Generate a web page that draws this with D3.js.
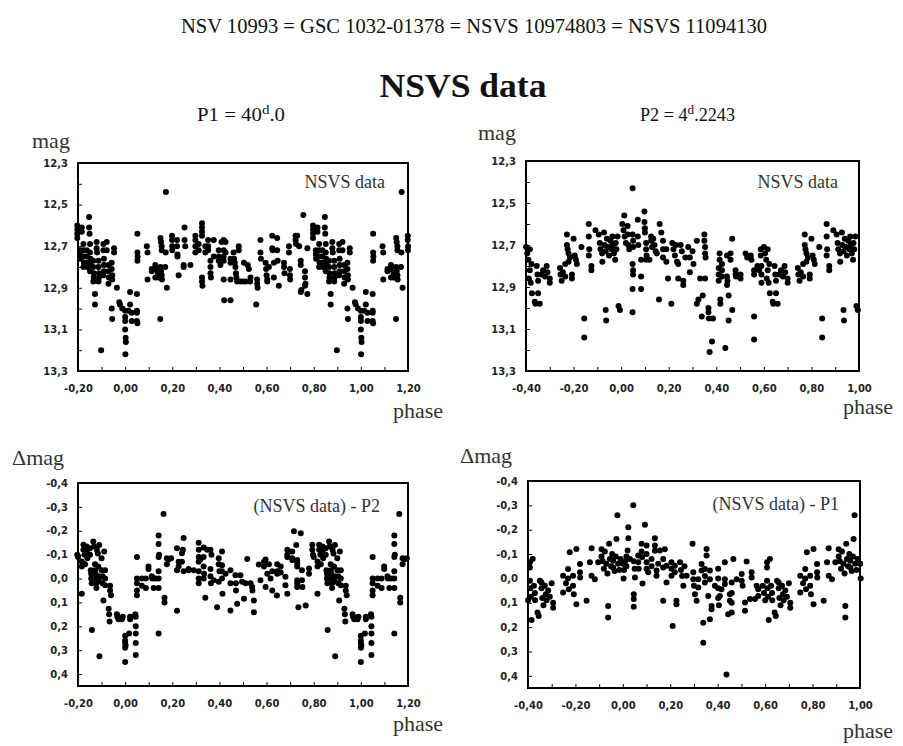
<!DOCTYPE html>
<html>
<head>
<meta charset="utf-8">
<script src="https://cdn.jsdelivr.net/npm/d3@7"></script>
<style>
body { margin: 0; background: #fff; }
</style>
</head>
<body>
<div id="chart"></div>
<script>
// base observations, phase in [0,1), read off the picture
const magP1 = [
[0.000,13.01],[0.000,13.04],[0.000,13.06],[0.000,13.10],[0.002,13.14],[0.003,13.16],[0.001,13.22],
[0.014,13.01],[0.021,12.92],[0.021,12.98],[0.028,13.02],[0.028,13.06],
[0.05,12.93],[0.05,13.01],[0.05,13.02],[0.05,13.06],[0.052,13.07],
[0.052,12.64],[0.052,12.73],[0.052,12.77],[0.053,12.75],
[0.092,12.70],[0.095,12.73],[0.095,12.86],
[0.113,12.81],[0.113,12.82],[0.128,12.79],[0.128,12.81],[0.128,12.85],[0.139,12.83],[0.139,12.85],
[0.149,13.05],
[0.15,12.66],[0.152,12.68],[0.155,12.70],[0.155,12.72],[0.15,12.80],[0.152,12.82],[0.155,12.84],[0.156,12.86],
[0.173,12.44],[0.177,12.90],[0.17,12.80],[0.172,12.73],
[0.199,12.65],[0.199,12.67],[0.2,12.70],[0.2,12.72],
[0.22,12.67],[0.22,12.70],[0.222,12.74],[0.222,12.75],[0.227,12.84],
[0.248,12.79],[0.248,12.80],[0.252,12.61],[0.252,12.67],[0.255,12.70],
[0.277,12.79],[0.298,12.65],[0.298,12.67],[0.298,12.70],[0.298,12.73],
[0.312,12.69],[0.312,12.72],[0.326,12.59],[0.326,12.61],[0.326,12.63],[0.326,12.65],[0.326,12.85],[0.326,12.87],[0.328,12.89],
[0.34,12.70],[0.34,12.73],[0.352,12.67],[0.352,12.70],[0.352,12.72],
[0.362,12.77],[0.362,12.80],[0.362,12.83],[0.364,12.85],
[0.376,12.67],[0.376,12.75],[0.397,12.72],[0.397,12.75],[0.397,12.77],[0.404,12.79],[0.409,12.68],
[0.418,12.67],[0.418,12.72],[0.418,12.75],[0.418,12.77],[0.418,12.86],[0.426,12.68],[0.426,12.73],
[0.42,12.96],[0.447,12.96],
[0.447,12.76],[0.447,12.78],[0.447,12.86],
[0.46,12.73],[0.462,12.76],[0.465,12.78],[0.468,12.80],[0.47,12.83],[0.472,12.85],[0.475,12.87],
[0.482,12.70],[0.482,12.72],
[0.489,12.87],[0.50,12.87],[0.504,12.78],[0.511,12.87],[0.52,12.79],[0.525,12.81],[0.532,12.85],[0.53,12.87],
[0.556,12.98],[0.56,12.86],[0.56,12.88],[0.562,12.90],
[0.574,12.67],[0.574,12.73],[0.576,12.76],
[0.596,12.78],[0.598,12.81],[0.6,12.84],[0.603,12.86],[0.603,12.87],[0.61,12.80],
[0.624,12.65],[0.624,12.71],[0.626,12.72],[0.631,12.78],[0.631,12.85],
[0.645,12.66],[0.645,12.72],[0.647,12.77],[0.652,12.89],
[0.674,12.78],[0.674,12.80],[0.676,12.83],[0.695,12.70],[0.695,12.73],[0.699,12.81],[0.699,12.84],[0.70,12.86],
[0.723,12.65],[0.723,12.67],[0.725,12.69],[0.73,12.65],[0.738,12.70],
[0.745,12.77],[0.745,12.79],[0.745,12.92],[0.748,12.91],
[0.756,12.55],[0.763,12.82],[0.763,12.85],[0.765,12.88],[0.763,12.89],[0.773,12.71],[0.773,12.93],
[0.797,12.60],[0.797,12.62],[0.797,12.64],[0.797,12.66],
[0.809,12.72],[0.809,12.74],[0.81,12.76],[0.816,12.61],[0.816,12.63],
[0.823,12.69],[0.823,12.72],[0.825,12.75],[0.825,12.78],[0.823,12.80],
[0.837,12.72],[0.837,12.75],[0.84,12.78],[0.84,12.80],
[0.847,12.56],[0.847,12.61],[0.849,12.64],[0.851,12.69],[0.851,12.73],[0.853,12.76],[0.853,12.79],[0.851,12.82],
[0.865,12.77],[0.865,12.80],[0.867,12.83],[0.867,12.85],[0.865,12.87],
[0.872,12.93],[0.872,12.98],
[0.879,12.68],[0.879,12.71],[0.881,12.73],
[0.887,12.77],[0.887,12.80],[0.889,12.83],[0.889,12.85],[0.887,12.87],
[0.898,13.20],
[0.908,12.69],[0.908,12.72],[0.91,12.76],[0.91,12.79],[0.91,12.82],[0.908,12.84],
[0.922,12.68],[0.922,12.72],
[0.929,12.79],[0.929,12.82],[0.931,12.85],[0.929,12.88],
[0.943,12.78],[0.943,12.81],[0.945,12.84],[0.945,12.86],[0.943,13.00],[0.945,13.05],
[0.953,12.71],[0.953,12.73],[0.965,12.90],
[0.975,12.97],[0.978,12.98],[0.988,13.00]
];

const magP2 = [
[0.005,12.60],[0.01,12.63],[0.013,12.56],[0.015,12.66],[0.02,12.69],[0.027,12.61],[0.027,12.65],[0.03,12.70],[0.034,12.72],
[0.048,12.43],[0.048,12.65],[0.05,12.68],[0.05,12.71],[0.048,12.79],[0.05,12.82],[0.05,12.84],[0.048,12.91],[0.048,13.02],
[0.07,12.58],[0.07,12.66],[0.072,12.70],[0.084,12.77],[0.084,12.85],[0.084,12.91],
[0.098,12.54],[0.098,12.59],[0.1,12.62],[0.1,12.64],[0.105,12.69],[0.105,12.72],[0.107,12.75],[0.105,12.77],
[0.119,12.77],[0.126,12.66],[0.126,12.68],[0.13,12.71],[0.135,12.67],[0.14,12.70],[0.145,12.73],[0.15,12.74],[0.159,12.96],
[0.162,12.60],[0.169,12.64],[0.176,12.68],[0.176,12.72],[0.176,12.76],
[0.19,12.72],[0.19,12.78],[0.197,12.86],
[0.211,12.98],[0.215,12.69],[0.22,12.72],[0.226,12.75],[0.23,12.70],[0.235,12.78],[0.24,12.79],[0.24,12.86],
[0.25,12.70],[0.255,12.73],[0.261,12.87],[0.261,12.89],[0.27,12.76],[0.282,12.71],[0.289,12.76],[0.289,12.83],
[0.3,12.73],[0.304,12.79],[0.318,12.68],[0.318,12.98],[0.325,12.96],[0.332,12.86],[0.339,13.04],[0.343,12.94],
[0.35,12.65],[0.35,12.68],[0.353,12.71],[0.353,12.74],[0.355,12.76],[0.353,12.86],
[0.367,13.00],[0.367,13.02],[0.369,13.05],[0.372,13.21],[0.382,13.16],[0.386,13.05],
[0.41,12.81],[0.41,12.84],[0.41,12.87],[0.414,12.74],[0.414,12.77],[0.417,12.96],[0.417,12.98],
[0.424,12.79],[0.424,12.82],[0.424,12.85],[0.438,13.19],
[0.445,12.75],[0.445,12.85],[0.447,12.87],[0.445,12.89],[0.452,12.94],[0.452,13.06],
[0.46,12.74],[0.46,12.77],[0.467,12.67],[0.467,13.01],
[0.481,12.82],[0.481,12.84],[0.483,12.85],[0.502,12.84],[0.502,12.86],
[0.523,12.74],[0.53,12.76],[0.545,12.75],[0.548,12.77],[0.559,12.82],[0.559,12.84],[0.559,13.04],[0.559,13.15],
[0.573,12.80],[0.58,12.82],[0.587,12.72],[0.587,12.75],[0.59,12.80],[0.59,12.84],[0.59,12.88],
[0.60,12.71],[0.605,12.74],[0.61,12.77],[0.612,12.86],[0.616,12.72],[0.616,12.82],[0.62,12.88],[0.625,12.93],[0.623,12.79],
[0.637,12.97],[0.64,12.98],[0.645,12.80],[0.648,12.84],[0.651,12.87],[0.651,12.93],[0.658,12.98],
[0.665,12.84],[0.672,12.82],[0.68,12.85],[0.687,12.80],[0.69,12.83],[0.70,12.86],[0.70,12.88],
[0.743,12.81],[0.745,12.84],[0.75,12.87],[0.755,12.83],[0.765,12.79],[0.765,12.85],
[0.772,12.65],[0.772,12.70],[0.775,12.72],[0.779,12.74],[0.779,12.78],[0.785,12.76],
[0.793,12.84],[0.793,12.86],[0.80,12.67],[0.805,12.75],[0.81,12.77],[0.814,12.79],
[0.833,12.71],[0.845,13.05],[0.845,13.14],
[0.864,12.60],[0.864,12.66],[0.866,12.72],[0.864,12.75],[0.875,12.80],[0.875,12.82],
[0.892,12.63],[0.906,12.65],[0.91,12.69],[0.913,12.72],[0.92,12.74],[0.921,12.78],
[0.928,12.64],[0.93,12.70],[0.935,12.73],[0.935,13.01],[0.937,13.06],
[0.94,12.67],[0.945,12.71],[0.949,12.75],[0.955,12.68],[0.96,12.72],[0.963,12.66],[0.965,12.70],[0.97,12.74],[0.975,12.77],[0.977,12.69],[0.98,12.72],[0.985,12.66],
[0.989,12.99],[0.995,13.01]
];

const dmagP3 = [
[0.0,0.24],[0.0,0.26],[0.0,0.27],[0.002,0.28],[0.0,0.29],[0.0,0.35],[0.017,0.23],[0.021,0.16],[0.021,0.17],[0.043,0.15],[0.045,0.16],[0.045,0.2],[0.045,0.23],[0.045,0.27],[0.045,0.32],[0.05,-0.09],[0.05,0.0],[0.05,0.02],[0.05,0.05],[0.05,0.07],
[0.071,0.0],[0.071,0.03],[0.088,0.0],[0.088,0.04],[0.099,-0.04],[0.099,-0.05],[0.113,-0.01],[0.115,0.0],[0.121,0.04],[0.128,0.0],[0.142,-0.03],[0.142,0.0],[0.142,0.04],[0.142,0.23],[0.142,-0.18],[0.142,-0.145],[0.144,-0.10],[0.142,-0.09],
[0.163,-0.27],[0.167,0.08],[0.167,0.1],[0.177,-0.085],[0.177,-0.06],[0.184,-0.08],[0.195,-0.085],[0.22,0.135],[0.22,-0.127],[0.22,-0.035],[0.227,-0.07],[0.227,-0.05],
[0.241,-0.106],[0.241,-0.07],[0.248,-0.17],[0.245,-0.12],[0.248,-0.03],[0.269,-0.04],[0.269,-0.035],[0.291,-0.035],[0.312,-0.15],[0.312,-0.12],[0.312,-0.09],[0.312,-0.07],[0.312,-0.03],[0.312,0.0],[0.312,0.02],[0.319,-0.08],
[0.333,-0.13],[0.333,-0.09],[0.333,-0.05],[0.335,-0.02],[0.333,0.0],[0.34,0.08],[0.348,-0.12],[0.362,-0.12],[0.362,-0.04],[0.362,-0.01],[0.364,0.02],[0.366,-0.1],[0.376,0.007],[0.39,0.12],[0.397,-0.085],[0.397,-0.06],[0.4,-0.03],[0.397,0.014],[0.411,-0.113],[0.411,-0.056],[0.411,-0.03],[0.411,0.0],[0.413,0.064],[0.426,-0.02],
[0.447,-0.035],[0.447,0.02],[0.447,0.134],[0.468,-0.014],[0.47,0.02],[0.47,0.05],[0.475,0.106],[0.489,-0.014],[0.496,0.014],[0.504,0.085],[0.511,0.02],[0.518,-0.082],[0.532,0.02],[0.539,0.035],[0.54,0.05],[0.546,0.092],[0.546,0.141],[0.567,-0.059],
[0.574,0.007],[0.589,-0.07],[0.589,-0.05],[0.596,-0.08],[0.596,0.035],[0.603,-0.02],[0.61,-0.06],[0.617,0.0],[0.624,-0.03],[0.624,0.05],[0.645,-0.06],[0.645,-0.03],[0.645,-0.02],[0.644,0.071],[0.66,-0.05],[0.66,-0.025],[0.68,-0.007],[0.68,0.028],[0.688,-0.12],[0.688,-0.1],[0.688,-0.09],[0.688,0.064],[0.709,-0.113],[0.709,-0.085],[0.709,-0.078],
[0.716,-0.198],[0.726,-0.14],[0.73,-0.078],[0.73,-0.064],[0.73,-0.05],[0.73,0.007],[0.73,0.02],[0.73,0.035],[0.735,0.12],[0.745,-0.19],[0.75,-0.035],[0.75,0.007],[0.752,0.035],[0.766,0.113],[0.78,-0.042],[0.78,-0.02],
[0.794,-0.141],[0.794,-0.12],[0.797,-0.1],[0.8,-0.09],[0.816,-0.071],[0.816,-0.05],[0.816,0.064],[0.823,-0.141],[0.823,-0.12],[0.828,-0.1],[0.83,-0.06],[0.837,-0.134],[0.837,-0.113],[0.84,-0.085],[0.851,-0.127],[0.851,-0.1],[0.854,-0.035],[0.856,-0.02],[0.856,0.0],[0.858,0.02],[0.859,0.216],
[0.865,-0.155],[0.868,-0.134],[0.872,-0.06],[0.872,-0.035],[0.874,-0.02],[0.876,0.0],[0.878,0.02],[0.878,0.04],[0.88,-0.12],[0.884,-0.105],[0.886,-0.05],[0.886,-0.01],[0.889,0.01],[0.891,0.325],[0.89,-0.14],[0.9,-0.085],[0.9,-0.035],[0.904,-0.01],[0.904,0.02],[0.908,0.092],[0.911,-0.113],[0.915,-0.035],[0.915,0.0],[0.915,0.028],
[0.936,0.03],[0.936,0.05],[0.94,0.07],[0.93,0.127],[0.932,0.15],[0.934,0.18],[0.965,0.15],[0.967,0.16],[0.972,0.17],[0.986,0.17],[0.99,0.16]
];

const dmagP4 = [
[0.001,-0.06],[0.005,-0.035],[0.01,-0.07],[0.015,-0.09],[0.015,-0.05],[0.003,0.0],[0.023,-0.21],[0.023,-0.165],[0.02,-0.115],[0.03,-0.08],[0.044,-0.3],[0.046,-0.07],[0.05,-0.04],[0.051,-0.004],[0.046,0.065],[0.046,0.085],[0.046,0.116],
[0.065,-0.094],[0.065,-0.066],[0.067,-0.04],[0.079,-0.142],[0.079,-0.11],[0.081,-0.087],[0.083,0.021],[0.093,-0.22],[0.1,-0.135],[0.1,-0.1],[0.1,-0.066],[0.1,-0.04],[0.107,-0.025],
[0.121,-0.08],[0.121,-0.05],[0.135,-0.165],[0.135,-0.135],[0.135,-0.114],[0.142,-0.032],[0.142,-0.011],[0.149,-0.06],[0.156,-0.115],[0.17,-0.08],[0.17,-0.045],[0.17,0.092],[0.177,-0.12],[0.184,-0.052],[0.184,0.017],[0.205,-0.066],[0.205,-0.04],[0.205,-0.011],[0.21,0.195],
[0.219,-0.052],[0.219,-0.025],[0.226,0.092],[0.226,0.106],[0.241,-0.066],[0.245,-0.035],[0.25,-0.01],[0.255,0.03],[0.26,-0.05],[0.269,-0.011],[0.294,-0.142],[0.297,-0.025],[0.297,0.003],[0.3,0.03],[0.304,0.065],[0.311,0.092],[0.318,0.003],[0.318,0.037],[0.332,-0.059],[0.332,-0.032],[0.339,0.182],[0.339,0.264],[0.346,-0.039],[0.346,-0.01],[0.346,0.017],[0.353,-0.121],[0.353,-0.094],[0.36,0.072],[0.367,-0.032],[0.367,0.003],[0.367,0.168],[0.374,0.113],[0.374,0.127],[0.388,0.03],[0.402,-0.04],[0.402,0.0],[0.402,0.04],[0.402,0.08],[0.405,0.11],[0.409,0.072],[0.416,0.044],[0.43,-0.066],[0.43,0.003],[0.43,0.023],[0.437,0.395],[0.444,0.147],[0.451,0.065],[0.451,0.092],
[0.459,0.017],[0.459,0.06],[0.459,0.1],[0.459,0.14],[0.466,-0.08],[0.48,0.003],[0.501,-0.018],[0.501,0.01],[0.505,0.03],[0.515,0.099],[0.515,0.133],[0.522,-0.069],[0.536,0.085],[0.543,-0.025],[0.543,-0.004],[0.557,0.085],[0.564,0.03],[0.571,0.044],[0.571,0.072],
[0.59,0.03],[0.595,0.06],[0.6,0.09],[0.608,-0.066],[0.608,-0.045],[0.608,0.01],[0.61,0.04],[0.612,0.075],[0.615,0.171],[0.62,-0.08],[0.625,0.03],[0.629,0.06],[0.63,0.09],[0.64,0.14],[0.645,0.154],[0.65,0.01],[0.657,0.017],[0.657,0.04],[0.66,0.08],[0.665,0.11],[0.671,0.03],[0.675,0.065],[0.678,0.09],[0.685,0.05],[0.692,0.075],[0.7,0.02],[0.706,0.1],[0.706,0.12],
[0.748,-0.011],[0.748,0.058],[0.76,0.02],[0.769,-0.039],[0.769,0.0],[0.772,0.044],[0.776,-0.107],[0.79,-0.011],[0.79,0.03],[0.793,0.065],[0.804,-0.121],[0.804,0.106],[0.819,-0.059],[0.819,-0.025],[0.82,-0.004],[0.847,0.092],[0.861,-0.066],[0.868,-0.124],[0.868,-0.011],[0.882,0.003],
[0.896,-0.066],[0.91,-0.12],[0.91,-0.09],[0.915,-0.07],[0.92,-0.04],[0.924,-0.11],[0.93,-0.06],[0.935,-0.02],[0.938,0.113],[0.938,0.161],[0.942,-0.142],[0.945,-0.08],[0.95,-0.05],[0.955,-0.1],[0.959,-0.073],[0.959,-0.045],[0.965,-0.03],[0.97,-0.09],[0.973,-0.162],[0.977,-0.259],[0.98,-0.06],[0.985,-0.035],[0.99,-0.08]
];

// tick values / labels
const phaseTicksA = [-0.2, 0, 0.2, 0.4, 0.6, 0.8, 1.0, 1.2];
const phaseLabelsA = ["-0,20","0,00","0,20","0,40","0,60","0,80","1,00","1,20"];
const phaseTicksB = [-0.4, -0.2, 0, 0.2, 0.4, 0.6, 0.8, 1.0];
const phaseLabelsB = ["-0,40","-0,20","0,00","0,20","0,40","0,60","0,80","1,00"];
const magTicks = [12.3, 12.5, 12.7, 12.9, 13.1, 13.3];
const magLabels = ["12,3","12,5","12,7","12,9","13,1","13,3"];
const dmagTicks = [-0.4, -0.3, -0.2, -0.1, 0, 0.1, 0.2, 0.3, 0.4];
const dmagLabels = ["-0,4","-0,3","-0,2","-0,1","0,0","0,1","0,2","0,3","0,4"];

const serif = "'Liberation Serif', 'Times New Roman', serif";
const sans = "'DejaVu Sans', Verdana, sans-serif";

const svg = d3.select("#chart").append("svg")
  .attr("width", 903)
  .attr("height", 746)
  .style("background", "#fff");

svg.append("text")
  .attr("x", 474).attr("y", 33)
  .attr("text-anchor", "middle")
  .attr("textLength", 586).attr("lengthAdjust", "spacingAndGlyphs")
  .style("font-family", serif).style("font-size", "22px").style("fill", "#111")
  .text("NSV 10993 = GSC 1032-01378 = NSVS 10974803 = NSVS 11094130");

svg.append("text")
  .attr("x", 463).attr("y", 97)
  .attr("text-anchor", "middle")
  .attr("textLength", 167).attr("lengthAdjust", "spacingAndGlyphs")
  .style("font-family", serif).style("font-size", "34px").style("font-weight", "bold").style("fill", "#111")
  .text("NSVS data");

function period(x, y, len, name, whole, frac) {
  const t = svg.append("text").attr("x", x).attr("y", y)
    .attr("textLength", len).attr("lengthAdjust", "spacingAndGlyphs")
    .style("font-family", serif).style("font-size", "18px").style("fill", "#111");
  t.append("tspan").text(name + " = " + whole);
  t.append("tspan").attr("dy", -7).style("font-size", "13px").text("d");
  t.append("tspan").attr("dy", 7).text(frac);
}
period(197, 121, 88, "P1", "40", ".0");
period(640, 121, 95, "P2", "4", ".2243");

const panels = [
  {data: magP1, x: [78, 408], y: [163, 371], xd: [-0.2, 1.2], yd: [12.3, 13.3],
   xt: phaseTicksA, xl: phaseLabelsA, yt: magTicks, yl: magLabels,
   note: "NSVS data", noteX: 385, noteY: 188,
   yTitle: "mag", ytX: 32, ytY: 148, phX: 393, phY: 418},
  {data: magP2, x: [526, 859], y: [161, 371], xd: [-0.4, 1.0], yd: [12.3, 13.3],
   xt: phaseTicksB, xl: phaseLabelsB, yt: magTicks, yl: magLabels,
   note: "NSVS data", noteX: 838, noteY: 188,
   yTitle: "mag", ytX: 478, ytY: 140, phX: 843, phY: 414},
  {data: dmagP3, x: [78, 408], y: [483, 686], xd: [-0.2, 1.2], yd: [-0.4, 0.45],
   xt: phaseTicksA, xl: phaseLabelsA, yt: dmagTicks, yl: dmagLabels,
   note: "(NSVS data) - P2", noteX: 380, noteY: 512,
   yTitle: "\u0394mag", ytX: 12, ytY: 465, phX: 393, phY: 731},
  {data: dmagP4, x: [528, 860], y: [481, 688], xd: [-0.4, 1.0], yd: [-0.4, 0.45],
   xt: phaseTicksB, xl: phaseLabelsB, yt: dmagTicks, yl: dmagLabels,
   note: "(NSVS data) - P1", noteX: 839, noteY: 510,
   yTitle: "\u0394mag", ytX: 460, ytY: 463, phX: 843, phY: 738}
];

panels.forEach(p => {
  const x = d3.scaleLinear().domain(p.xd).range(p.x);
  const y = d3.scaleLinear().domain(p.yd).range(p.y);

  // folded phase: every observation shown at each copy that falls inside the window
  const pts = [];
  p.data.forEach(d => {
    [-1, 0, 1].forEach(s => {
      const ph = d[0] + s;
      if (ph >= p.xd[0] - 0.004 && ph <= p.xd[1] + 0.004) pts.push([ph, d[1]]);
    });
  });

  const g = svg.append("g");

  g.selectAll("circle").data(pts).join("circle")
    .attr("cx", d => x(d[0]))
    .attr("cy", d => y(d[1]))
    .attr("r", 3)
    .attr("fill", "#000");

  // minor ticks every 0.1, pointing inwards
  const xMinor = d3.range(Math.round(p.xd[0] * 10), Math.round(p.xd[1] * 10) + 1).map(v => v / 10);
  const yMinor = d3.range(Math.round(p.yd[0] * 10), Math.round(p.yd[1] * 10) + 1).map(v => v / 10)
    .filter(v => v <= p.yd[1]);

  const xAx = g.append("g").attr("transform", `translate(0,${p.y[1]})`)
    .call(d3.axisBottom(x).tickValues(xMinor).tickSizeInner(-4).tickSizeOuter(0).tickFormat(""));
  const yAx = g.append("g").attr("transform", `translate(${p.x[0]},0)`)
    .call(d3.axisLeft(y).tickValues(yMinor).tickSizeInner(-4).tickSizeOuter(0).tickFormat(""));
  [xAx, yAx].forEach(a => {
    a.select(".domain").remove();
    a.selectAll("line").attr("stroke", "#000").attr("stroke-width", 1);
  });

  const xLab = g.append("g").attr("transform", `translate(0,${p.y[1]})`)
    .call(d3.axisBottom(x).tickValues(p.xt).tickSize(0).tickPadding(14)
      .tickFormat((d, i) => p.xl[i]));
  const yLab = g.append("g").attr("transform", `translate(${p.x[0]},0)`)
    .call(d3.axisLeft(y).tickValues(p.yt).tickSize(0).tickPadding(10)
      .tickFormat((d, i) => p.yl[i]));
  [xLab, yLab].forEach(a => {
    a.select(".domain").remove();
    a.selectAll("text")
      .style("font-family", sans).style("font-size", "10px")
      .style("font-weight", "bold").style("fill", "#222");
  });

  g.append("rect")
    .attr("x", p.x[0]).attr("y", p.y[0])
    .attr("width", p.x[1] - p.x[0]).attr("height", p.y[1] - p.y[0])
    .attr("fill", "none").attr("stroke", "#000").attr("stroke-width", 2);

  g.append("text")
    .attr("x", p.noteX).attr("y", p.noteY)
    .attr("text-anchor", "end")
    .style("font-family", serif).style("font-size", "18px").style("fill", "#333")
    .text(p.note);

  g.append("text")
    .attr("x", p.ytX).attr("y", p.ytY)
    .style("font-family", serif).style("font-size", "22px").style("fill", "#333")
    .text(p.yTitle);

  g.append("text")
    .attr("x", p.phX).attr("y", p.phY)
    .style("font-family", serif).style("font-size", "22px").style("fill", "#333")
    .text("phase");
});
</script>
</body>
</html>
